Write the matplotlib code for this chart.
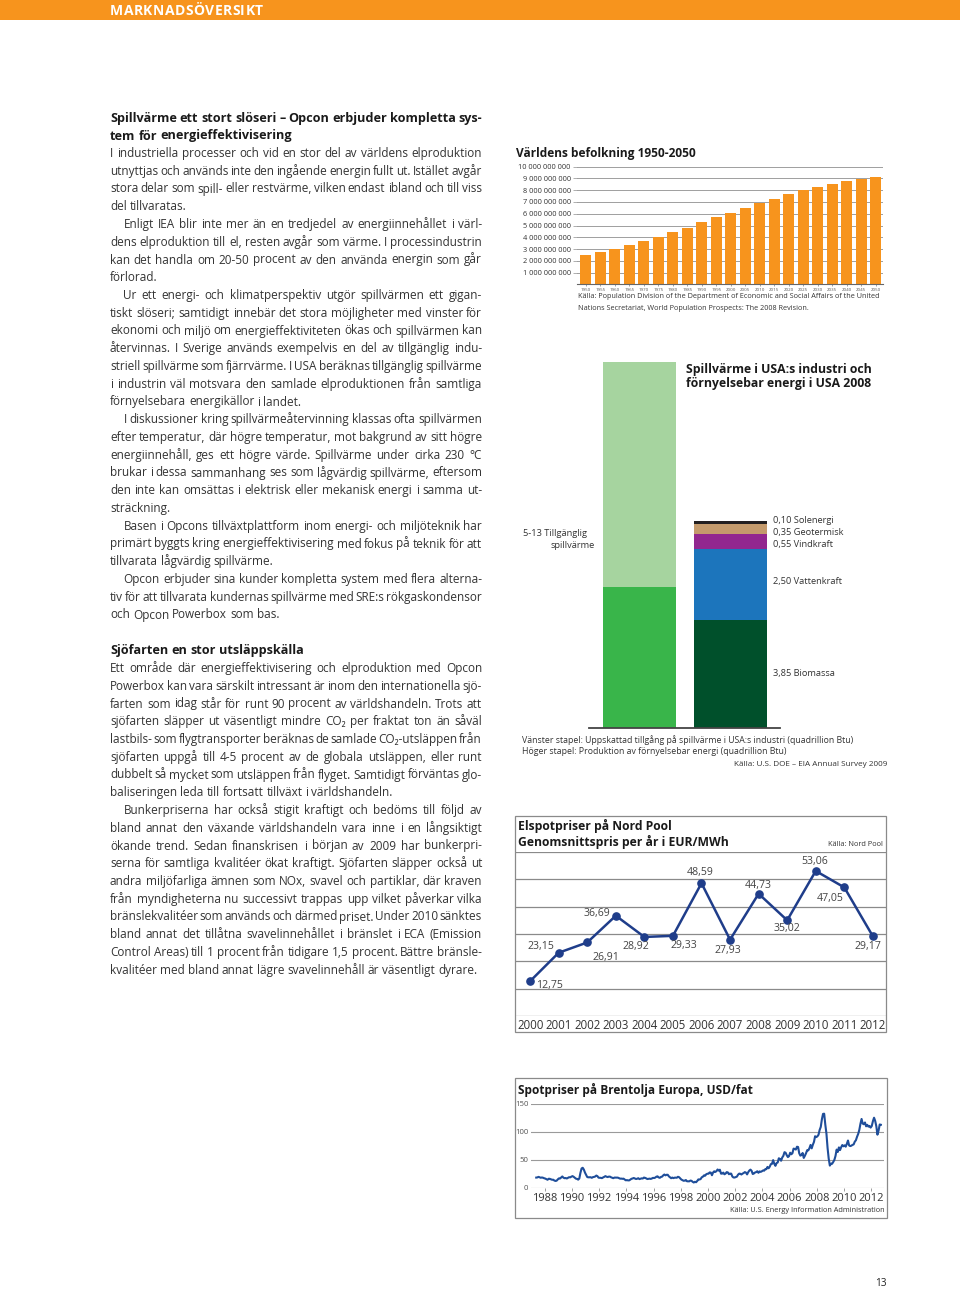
import numpy as np
import matplotlib
matplotlib.use('Agg')
import matplotlib.pyplot as plt
from matplotlib.patches import Rectangle
from matplotlib.ticker import FuncFormatter

W, H = 960, 1289
FAM = ['Open Sans', 'DejaVu Sans']
plt.rcParams['font.family'] = FAM
TXT = '#333333'
ORANGE = '#F7941D'

# ---------------------------------------------------------------- data
pop_years = [1950, 1955, 1960, 1965, 1970, 1975, 1980, 1985, 1990, 1995, 2000,
             2005, 2010, 2015, 2020, 2025, 2030, 2035, 2040, 2045, 2050]
pop_billions = [2.50, 2.75, 3.00, 3.30, 3.67, 4.04, 4.42, 4.82, 5.27, 5.69, 6.09,
                6.49, 6.89, 7.28, 7.66, 8.00, 8.30, 8.57, 8.79, 8.98, 9.15]

waste_heat_low = 5
waste_heat_high = 13
renew_labels = ['Biomassa', 'Vattenkraft', 'Vindkraft', 'Geotermisk', 'Solenergi']
renew_values = [3.85, 2.50, 0.55, 0.35, 0.10]
renew_colors = ['#00502B', '#1C75BC', '#92278F', '#C49A6C', '#231F20']

nord_years = list(range(2000, 2013))
nord_prices = [12.75, 23.15, 26.91, 36.69, 28.92, 29.33, 48.59, 27.93, 44.73,
               35.02, 53.06, 47.05, 29.17]
# label offsets (pixels: dx, dy down) for the point labels
nord_label_offsets = [(19, 4), (-18, -6), (19, 15), (-19, -2), (-9, 10), (11, 10),
                      (-1, -11), (-2, 11), (0, -8), (0, 8), (-1, -9), (-14, 11), (-5, 10)]

# Brent monthly spot, May 1987 - Sep 2012 (USD/fat)
brent_prices = [
    18.6, 18.9, 19.9, 19.0, 18.3, 18.8, 18.3, 17.4,
    16.8, 15.7, 14.7, 16.6, 16.3, 15.5, 14.7, 14.8, 13.3, 12.6, 13.1, 15.3,
    17.2, 16.9, 18.8, 20.6, 18.4, 17.5, 17.8, 17.0, 18.2, 19.3, 19.0, 20.3,
    21.2, 20.0, 18.4, 16.7, 16.2, 14.9, 17.0, 27.2, 34.9, 36.1, 32.9, 27.5,
    23.6, 19.5, 19.1, 19.2, 19.2, 18.2, 19.4, 19.8, 20.5, 22.2, 21.1, 18.4,
    18.2, 18.1, 17.6, 18.9, 19.9, 21.2, 20.2, 19.5, 20.3, 20.3, 19.1, 18.2,
    17.5, 18.6, 18.6, 18.6, 18.5, 17.7, 16.7, 16.8, 16.4, 16.7, 15.3, 13.7,
    14.1, 13.6, 13.6, 15.1, 16.4, 17.0, 17.9, 16.9, 16.1, 16.5, 17.5, 15.9,
    16.6, 17.2, 16.9, 18.6, 18.1, 17.2, 16.0, 16.3, 16.7, 16.2, 17.0, 18.1,
    17.8, 18.6, 20.2, 20.8, 18.9, 18.2, 19.7, 20.3, 22.5, 24.1, 22.6, 23.6,
    23.6, 20.8, 19.2, 17.5, 18.6, 17.6, 18.4, 18.5, 18.3, 20.0, 19.3, 17.1,
    15.1, 14.1, 12.9, 13.2, 14.2, 12.0, 12.0, 11.9, 13.3, 12.8, 11.0, 9.8,
    11.1, 10.3, 12.5, 15.3, 15.2, 15.9, 19.1, 20.2, 22.5, 22.0, 24.6, 25.5,
    25.5, 27.8, 27.5, 22.8, 27.7, 29.8, 28.7, 30.2, 33.1, 31.0, 32.6, 25.7,
    25.6, 27.5, 24.5, 25.7, 28.3, 27.9, 24.6, 25.7, 25.6, 20.5, 18.8, 18.7,
    19.4, 20.3, 23.7, 25.7, 25.4, 24.1, 25.7, 26.7, 28.4, 27.5, 24.3, 28.3,
    31.2, 32.8, 30.6, 25.0, 25.9, 27.7, 28.4, 29.9, 27.1, 29.6, 28.8, 29.8,
    31.3, 30.9, 33.6, 33.6, 37.6, 35.2, 38.2, 42.7, 43.2, 49.8, 43.1, 39.6,
    44.5, 45.5, 53.1, 51.9, 48.7, 54.4, 57.5, 64.0, 62.9, 58.5, 55.2, 56.9,
    63.0, 60.2, 62.1, 70.3, 69.8, 68.6, 73.7, 73.2, 62.0, 57.8, 58.8, 62.5,
    53.7, 57.6, 62.1, 67.5, 67.2, 71.1, 76.9, 70.8, 77.2, 82.3, 92.4, 90.9,
    92.2, 95.0, 103.6, 109.1, 122.8, 132.3, 132.7, 113.2, 97.2, 71.6, 52.5, 40.0,
    43.4, 43.3, 46.5, 50.2, 57.3, 68.6, 64.4, 72.5, 67.7, 72.8, 76.7, 74.5,
    76.2, 73.8, 78.8, 84.8, 76.0, 74.8, 75.6, 77.0, 77.8, 82.7, 85.3, 91.5,
    96.5, 103.7, 114.6, 123.3, 115.0, 113.8, 117.0, 110.2, 112.8, 109.6, 110.8, 107.9,
    110.7, 119.3, 125.5, 119.8, 110.3, 95.2, 102.6, 113.4, 112.9,
]
brent_label_years = list(range(1988, 2013, 2))
brent_yticks = [0, 50, 100, 150]

# ---------------------------------------------------------------- text
H1 = ["Spillvärme ett stort slöseri – Opcon erbjuder kompletta sys-",
      "tem för energieffektivisering"]
SEC1 = [
    ["I industriella processer och vid en stor del av världens elproduktion",
     "utnyttjas och används inte den ingående energin fullt ut. Istället avgår",
     "stora delar som spill- eller restvärme, vilken endast ibland och till viss",
     "del tillvaratas."],
    ["Enligt IEA blir inte mer än en tredjedel av energiinnehållet i värl-",
     "dens elproduktion till el, resten avgår som värme. I processindustrin",
     "kan det handla om 20-50 procent av den använda energin som går",
     "förlorad."],
    ["Ur ett energi- och klimatperspektiv utgör spillvärmen ett gigan-",
     "tiskt slöseri; samtidigt innebär det stora möjligheter med vinster för",
     "ekonomi och miljö om energieffektiviteten ökas och spillvärmen kan",
     "återvinnas. I Sverige används exempelvis en del av tillgänglig indu-",
     "striell spillvärme som fjärrvärme. I USA beräknas tillgänglig spillvärme",
     "i industrin väl motsvara den samlade elproduktionen från samtliga",
     "förnyelsebara energikällor i landet."],
    ["I diskussioner kring spillvärmeåtervinning klassas ofta spillvärmen",
     "efter temperatur, där högre temperatur, mot bakgrund av sitt högre",
     "energiinnehåll, ges ett högre värde. Spillvärme under cirka 230 °C",
     "brukar i dessa sammanhang ses som lågvärdig spillvärme, eftersom",
     "den inte kan omsättas i elektrisk eller mekanisk energi i samma ut-",
     "sträckning."],
    ["Basen i Opcons tillväxtplattform inom energi- och miljöteknik har",
     "primärt byggts kring energieffektivisering med fokus på teknik för att",
     "tillvarata lågvärdig spillvärme."],
    ["Opcon erbjuder sina kunder kompletta system med flera alterna-",
     "tiv för att tillvarata kundernas spillvärme med SRE:s rökgaskondensor",
     "och Opcon Powerbox som bas."],
]
H2 = "Sjöfarten en stor utsläppskälla"
SEC2 = [
    ["Ett område där energieffektivisering och elproduktion med Opcon",
     "Powerbox kan vara särskilt intressant är inom den internationella sjö-",
     "farten som idag står för runt 90 procent av världshandeln. Trots att",
     "sjöfarten släpper ut väsentligt mindre CO₂ per fraktat ton än såväl",
     "lastbils- som flygtransporter beräknas de samlade CO₂-utsläppen från",
     "sjöfarten uppgå till 4-5 procent av de globala utsläppen, eller runt",
     "dubbelt så mycket som utsläppen från flyget. Samtidigt förväntas glo-",
     "baliseringen leda till fortsatt tillväxt i världshandeln."],
    ["Bunkerpriserna har också stigit kraftigt och bedöms till följd av",
     "bland annat den växande världshandeln vara inne i en långsiktigt",
     "ökande trend. Sedan finanskrisen i början av 2009 har bunkerpri-",
     "serna för samtliga kvalitéer ökat kraftigt. Sjöfarten släpper också ut",
     "andra miljöfarliga ämnen som NOx, svavel och partiklar, där kraven",
     "från myndigheterna nu successivt trappas upp vilket påverkar vilka",
     "bränslekvalitéer som används och därmed priset. Under 2010 sänktes",
     "bland annat det tillåtna svavelinnehållet i bränslet i ECA (Emission",
     "Control Areas) till 1 procent från tidigare 1,5 procent. Bättre bränsle-",
     "kvalitéer med bland annat lägre svavelinnehåll är väsentligt dyrare."],
]

# ---------------------------------------------------------------- figure
fig = plt.figure(figsize=(W / 100, H / 100), dpi=100)
fig.patch.set_facecolor('white')
bg = fig.add_axes([0, 0, 1, 1])
bg.set_xlim(0, W)
bg.set_ylim(H, 0)
bg.axis('off')
R = fig.canvas.get_renderer()


def px_axes(x0, y0, x1, y1):
    a = fig.add_axes([x0 / W, 1 - y1 / H, (x1 - x0) / W, (y1 - y0) / H])
    a.set_facecolor('none')
    return a


def tw(s, size, weight='normal'):
    t = bg.text(0, 0, s, fontsize=size, fontweight=weight, family=FAM)
    w = t.get_window_extent(R).width
    t.remove()
    return w


def fit(s, width, weight='normal'):
    return 10.0 * width / tw(s, 10.0, weight)


def put(s, x, y, size, weight='normal', color=TXT, ha='left', va='center'):
    return bg.text(x, y, s, fontsize=size, fontweight=weight, color=color,
                   ha=ha, va=va, family=FAM)


def justify(tokens, x0, x1, y, size, weight='normal', color=TXT, full=True, gap=0.0):
    objs = [bg.text(x0, y, tok, fontsize=size, fontweight=weight, color=color,
                    ha='left', va='baseline', family=FAM) for tok in tokens]
    ws = [o.get_window_extent(R).width for o in objs]
    g = (x1 - x0 - sum(ws)) / (len(tokens) - 1) if (full and len(tokens) > 1) else gap
    x = x0
    for o, w in zip(objs, ws):
        o.set_x(x)
        x += w + g


def max_size(lines_avail, weight='normal', min_space=0.5):
    """largest uniform size where each justified line fits with spaces >= min_space*normal"""
    sp10 = tw('a a', 10, weight) - tw('aa', 10, weight)
    best = 99.0
    for line, avail in lines_avail:
        words = line.split(' ')
        w10 = sum(tw(w, 10, weight) for w in words)
        best = min(best, 10 * avail / (w10 + min_space * sp10 * (len(words) - 1)))
    return best


# ---------------------------------------------------------------- header
bg.add_patch(Rectangle((0, 0), W, 20, color=ORANGE, lw=0))
justify(list("MARKNADSÖVERSIKT"), 110, 263, 14.8, 10.0, weight='bold', color='white')

# ---------------------------------------------------------------- body text
X0, X1, IND, LS = 110, 482, 13.5, 17.75
cand = []
for sec in (SEC1, SEC2):
    for pi, para in enumerate(sec):
        for li, line in enumerate(para[:-1]):
            ind = IND if (pi > 0 and li == 0) else 0
            cand.append((line, X1 - X0 - ind))
BODY = min(max_size(cand, 'normal', 0.55), 9.0)
SP = tw('a a', BODY) - tw('aa', BODY)
HB = min(max_size([(H1[0], X1 - X0)], 'bold', 0.9), BODY * 1.12)
SPB = tw('a a', HB, 'bold') - tw('aa', HB, 'bold')


def draw_section(paras, y):
    for pi, para in enumerate(paras):
        for li, line in enumerate(para):
            ind = IND if (pi > 0 and li == 0) else 0
            last = li == len(para) - 1
            justify(line.split(' '), X0 + ind, X1, y + 4, BODY,
                    full=not last, gap=SP)
            y += LS


justify(H1[0].split(' '), X0, X1, 118 + 4, HB, weight='bold', color='#1a1a1a')
justify(H1[1].split(' '), X0, X1, 135.5 + 4, HB, weight='bold', color='#1a1a1a',
        full=False, gap=SPB)
draw_section(SEC1, 153)
justify(H2.split(' '), X0, X1, 650 + 4, HB, weight='bold', color='#1a1a1a',
        full=False, gap=SPB)
draw_section(SEC2, 668)

# ---------------------------------------------------------------- population chart
t = "Världens befolkning 1950-2050"
put(t, 516, 153, fit(t, 181, 'bold'), weight='bold', color='#1a1a1a')
ax1 = px_axes(577, 166.7, 883, 284.3)
xs = np.arange(len(pop_years))
ax1.bar(xs, np.array(pop_billions) * 1e9, width=0.76, color=ORANGE, zorder=2)
ax1.set_xlim(-0.6, len(pop_years) - 0.5)
ax1.set_ylim(0, 1e10)
ax1.set_yticks(np.arange(1, 11) * 1e9)
ax1.yaxis.set_major_formatter(FuncFormatter(lambda v, p: f"{int(round(v)):,}".replace(',', ' ')))
ax1.yaxis.grid(True, color='#8f8f8f', lw=0.6, zorder=0)
ax1.set_axisbelow(True)
ax1.set_xticks(xs)
ax1.set_xticklabels([str(y) for y in pop_years])
ax1.tick_params(axis='x', labelsize=3.2, length=1.5, width=0.4, pad=1.5, colors='#555555')
ax1.tick_params(axis='y', labelsize=5.3, length=3, width=0.5, pad=1.5, colors='#8f8f8f',
                labelcolor=TXT)
for s in ['top', 'right', 'left']:
    ax1.spines[s].set_visible(False)
ax1.spines['bottom'].set_color('#666666')
ax1.spines['bottom'].set_linewidth(0.8)
s1 = "Källa: Population Division of the Department of Economic and Social Affairs of the United"
s2 = "Nations Secretariat, World Population Prospects: The 2008 Revision."
fs = fit(s1, 300)
put(s1, 578, 297, fs)
put(s2, 578, 308, fs)

# ---------------------------------------------------------------- stacked bars
t1 = "Spillvärme i USA:s industri och"
t2 = "förnyelsebar energi i USA 2008"
fs = fit(t2, 187, 'bold')
put(t1, 686, 369, fs, weight='bold', color='#1a1a1a')
put(t2, 686, 384, fs, weight='bold', color='#1a1a1a')
ax2 = px_axes(589, 362, 780, 728)
ax2.set_xlim(-0.555, 1.544)
ax2.set_ylim(0, waste_heat_high)
ax2.bar(0, waste_heat_low, width=0.8, color='#39B54A', lw=0)
ax2.bar(0, waste_heat_high - waste_heat_low, bottom=waste_heat_low, width=0.8,
        color='#A6D49F', lw=0)
label_dy = [0, -3, 3, 4, -1.5]
bottom = 0.0
fsl = fit("2,50 Vattenkraft", 69)
for lab, v, c, dy in zip(renew_labels, renew_values, renew_colors, label_dy):
    ax2.bar(1, v, bottom=bottom, width=0.8, color=c, lw=0)
    txt = f"{v:.2f}".replace('.', ',') + " " + lab
    ax2.annotate(txt, (1.4, bottom + v / 2), xytext=(6.5 * 0.72, -dy * 0.72),
                 textcoords='offset points', fontsize=fsl, color=TXT, va='center',
                 ha='left', annotation_clip=False)
    bottom += v
ax2.set_xticks([])
ax2.set_yticks([])
for s in ['top', 'right', 'left']:
    ax2.spines[s].set_visible(False)
ax2.spines['bottom'].set_color('#444444')
ax2.spines['bottom'].set_linewidth(1.3)
put("5-13 Tillgänglig", 523, 533, fsl)
put("spillvärme", 551, 546, fsl)
n1 = "Vänster stapel: Uppskattad tillgång på spillvärme i USA:s industri (quadrillion Btu)"
n2 = "Höger stapel: Produktion av förnyelsebar energi (quadrillion Btu)"
n3 = "Källa: U.S. DOE – EIA Annual Survey 2009"
fs = fit(n1, 332)
put(n1, 522, 740, fs)
put(n2, 522, 752, fs)
put(n3, 887, 764, fs * 0.93, ha='right')

# ---------------------------------------------------------------- Nord Pool
bg.add_patch(Rectangle((515, 816), 371, 216, fill=False, ec='#8a8a8a', lw=0.9))
t1 = "Elspotpriser på Nord Pool"
t2 = "Genomsnittspris per år i EUR/MWh"
fs = fit(t2, 210, 'bold')
put(t1, 518, 826, fs, weight='bold', color='#1a1a1a')
put(t2, 518, 842, fs, weight='bold', color='#1a1a1a')
k = "Källa: Nord Pool"
put(k, 883, 844, fit(k, 55), ha='right')
ax3 = px_axes(515, 852, 886, 1016)
ax3.set_xlim(1999.47, 2012.46)
ax3.set_ylim(0, 60)
ax3.set_yticks(range(0, 61, 10))
ax3.yaxis.grid(True, color='#8a8a8a', lw=0.9)
ax3.set_axisbelow(True)
ax3.tick_params(axis='y', length=0, labelleft=False)
ax3.set_xticks(nord_years)
ax3.set_xticklabels([str(y) for y in nord_years])
ax3.tick_params(axis='x', length=0, labelsize=fit("2000", 26.5), pad=2.5, labelcolor=TXT)
for s in ax3.spines.values():
    s.set_visible(False)
NAVY = '#1F3D8A'
ax3.plot(nord_years, nord_prices, color=NAVY, lw=1.8, marker='o', ms=5.2, zorder=3,
         clip_on=False)
fsd = fit("48,59", 27)
for yr, v, (dx, dy) in zip(nord_years, nord_prices, nord_label_offsets):
    ax3.annotate(f"{v:.2f}".replace('.', ','), (yr, v), xytext=(dx * 0.72, -dy * 0.72),
                 textcoords='offset points', ha='center', va='center', fontsize=fsd,
                 color='#444444', annotation_clip=False)

# ---------------------------------------------------------------- Brent
bg.add_patch(Rectangle((515, 1078), 372, 140, fill=False, ec='#8a8a8a', lw=0.9))
t = "Spotpriser på Brentolja Europa, USD/fat"
put(t, 518, 1090, fit(t, 235, 'bold'), weight='bold', color='#1a1a1a')
k = "Källa: U.S. Energy Information Administration"
put(k, 885, 1211, fit(k, 154), ha='right')
ax4 = px_axes(531, 1104, 884, 1188)
brent_t = 1987 + (4 + np.arange(len(brent_prices)) + 0.5) / 12
ax4.plot(brent_t, brent_prices, color='#1F4E9A', lw=1.5, zorder=3)
ax4.set_xlim(1986.99, 2012.94)
ax4.set_ylim(0, 150)
ax4.set_yticks(brent_yticks)
ax4.yaxis.grid(True, color='#9a9a9a', lw=0.8)
ax4.set_axisbelow(True)
ax4.tick_params(axis='y', length=0, labelsize=5.6, pad=2, labelcolor='#555555')
ax4.set_xticks(brent_label_years)
ax4.set_xticklabels([str(y) for y in brent_label_years])
ax4.tick_params(axis='x', length=2, width=0.5, colors='#777777',
                labelsize=fit("1988", 25.5), pad=1.5, labelcolor=TXT)
for s in ax4.spines.values():
    s.set_visible(False)

# ---------------------------------------------------------------- page number
put("13", 887, 1284, 7.2, ha='right', color='#222222')

fig.savefig('out.png', dpi=100, facecolor='white')
